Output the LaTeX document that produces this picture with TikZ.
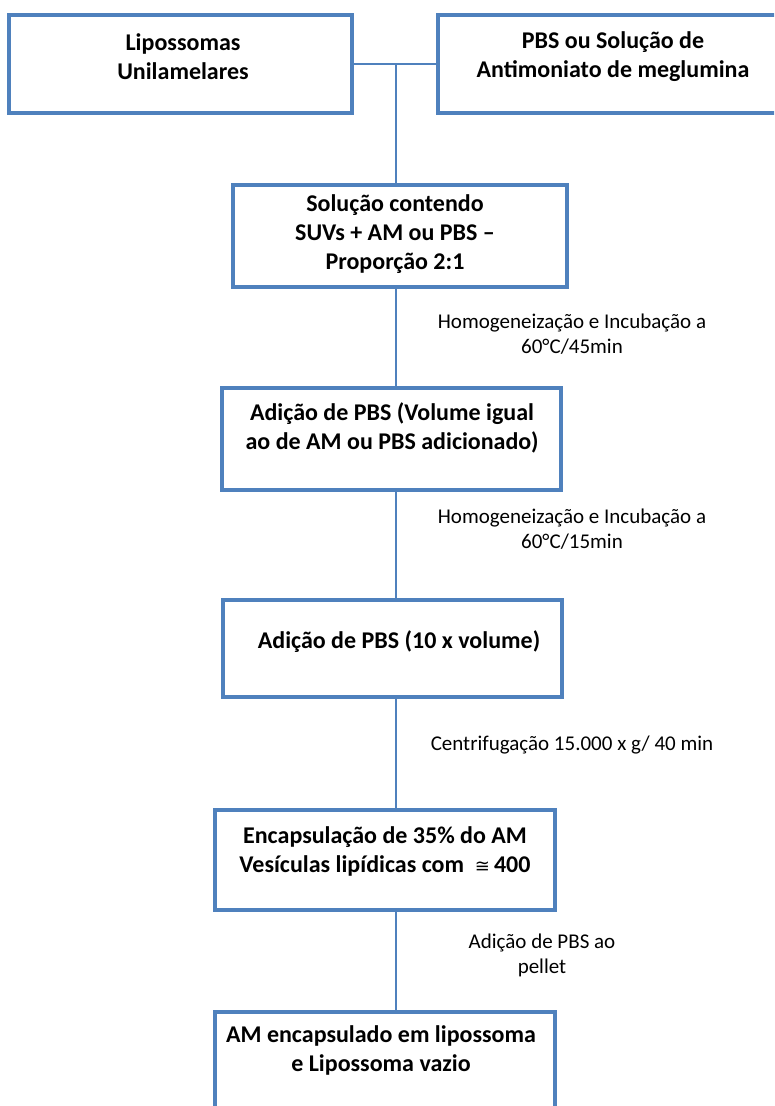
\documentclass[tikz,border=0pt]{standalone}
\usepackage{fontspec}
\setmainfont{Carlito}
\newfontfamily\simbolo{DejaVu Sans}
\definecolor{azul}{HTML}{4F81BD}
\begin{document}
\begin{tikzpicture}[x=1pt,y=-1pt,
    caixa/.style={rectangle,draw=azul,line width=4.5pt,inner sep=0pt},
    texto/.style={align=center,inner sep=0pt,font=\fontsize{24}{29}\selectfont\bfseries},
    rotulo/.style={align=center,inner sep=0pt,font=\fontsize{21}{25}\selectfont},
    ligacao/.style={draw=azul,line width=1.8pt}]
        \clip (0,0) rectangle (774,1106);
        \draw (180.5,64) node[caixa,minimum width=343pt,minimum height=98pt](b1){};
        \draw (619,64) node[caixa,minimum width=362pt,minimum height=98pt](b2){};
        \draw (400,236) node[caixa,minimum width=334pt,minimum height=102pt](b3){};
        \draw (391.5,439) node[caixa,minimum width=339pt,minimum height=102pt](b4){};
        \draw (392.5,648.5) node[caixa,minimum width=339pt,minimum height=97pt](b5){};
        \draw (385,860) node[caixa,minimum width=340pt,minimum height=100pt](b6){};
        \draw (385,1062) node[caixa,minimum width=340pt,minimum height=100pt](b7){};
        % textos das caixas
        \draw (183,56.5) node[texto](t1){Lipossomas\\Unilamelares};
        \draw (613,56.5) node[texto](t2){PBS ou Solução de\\Antimoniato de meglumina};
        \draw (395,234.5) node[texto](t3){Solução contendo\\SUVs + AM ou PBS –\\Proporção 2:1};
        \draw (392,427.5) node[texto](t4){Adição de PBS (Volume igual\\ao de AM ou PBS adicionado)};
        \draw (399,642) node[texto](t5){Adição de PBS (10 x volume)};
        \draw (385,851) node[texto](t6){Encapsulação de 35\% do AM\\Vesículas lipídicas com \ {\fontsize{18}{29}\selectfont\mdseries\simbolo ≅}\,400};
        \draw (381,1050.5) node[texto](t7){AM encapsulado em lipossoma\\e Lipossoma vazio};
        % rotulos das etapas
        \draw (572,334.5) node[rotulo](r1){Homogeneização e Incubação a\\60°C/45min};
        \draw (572,529) node[rotulo](r2){Homogeneização e Incubação a\\60°C/15min};
        \draw (572,745) node[rotulo](r3){Centrifugação 15.000 x g/ 40 min};
        \draw (542,955.5) node[rotulo](r4){Adição de PBS ao\\pellet};
        \coordinate (j) at (396,64);
        \draw[ligacao]
          (b1) -- (b2)
          (j) -- (j |- b3.north)
          (b3.south -| j) -- (b4.north -| j)
          (b4.south -| j) -- (b5.north -| j)
          (b5.south -| j) -- (b6.north -| j)
          (b6.south -| j) -- (b7.north -| j)
        ;
      \end{tikzpicture}
\end{document}
